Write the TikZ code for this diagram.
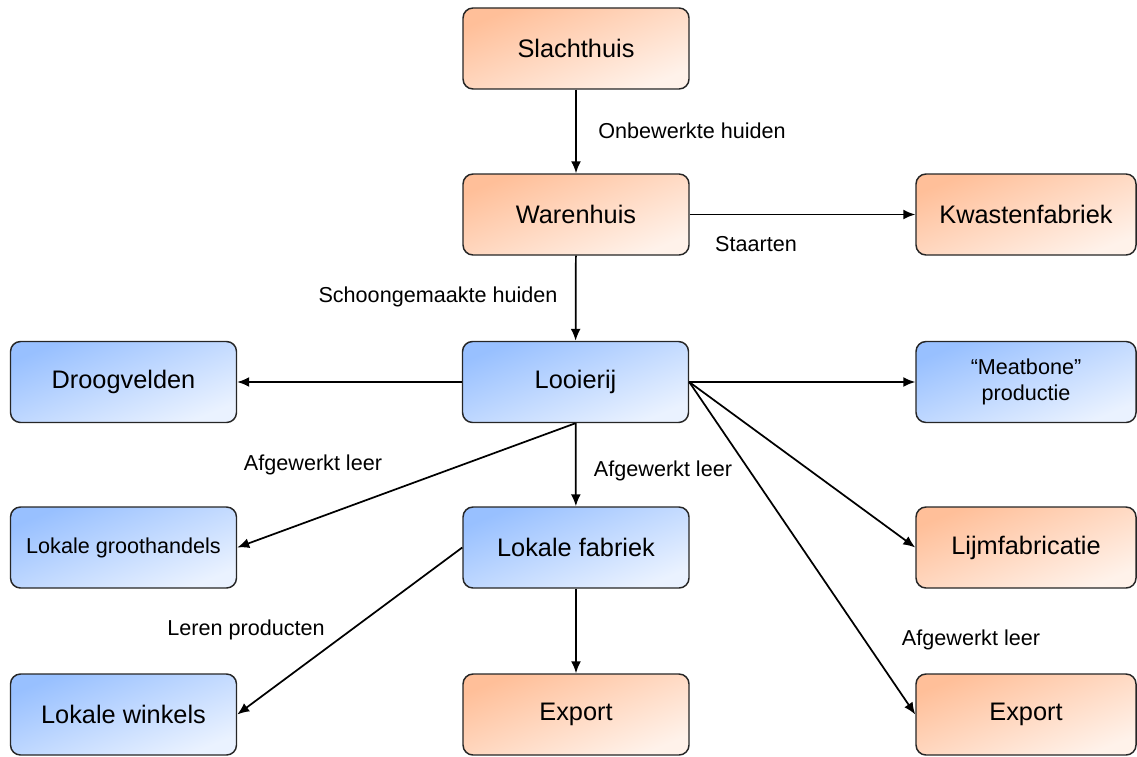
\documentclass[tikz,border=0pt]{standalone}
\usepackage{fontspec}
\setmainfont{Liberation Sans}
\usetikzlibrary{arrows.meta}
\definecolor{orA}{HTML}{FFBF99}
\definecolor{orB}{HTML}{FFF2EA}
\definecolor{blA}{HTML}{98C0FF}
\definecolor{blB}{HTML}{EAF2FF}
\tikzset{
  box/.style={draw=black!85, line width=1.1pt, rounded corners=7.5pt,
    minimum width=169.5pt, minimum height=60.75pt, align=center,
    font=\fontsize{19}{22}\selectfont, inner sep=2pt},
  orbox/.style={box, shading=axis, top color=orA, bottom color=orB, shading angle=22},
  blbox/.style={box, shading=axis, top color=blA, bottom color=blB, shading angle=22},
  smalltext/.style={font=\fontsize{16.2}{20}\selectfont},
  conn/.style={line width=1.3pt, -{Latex[length=9pt,width=7.5pt]}},
  lbl/.style={font=\fontsize{16.2}{20}\selectfont, inner sep=0pt}
}
\begin{document}
\begin{tikzpicture}[x=0.75pt,y=-0.75pt]
\useasboundingbox (0,0) rectangle (1137,756);
\node[orbox] (S) at (576,48.5) {Slachthuis};
\node[orbox] (W) at (576,214.5) {Warenhuis};
\node[orbox, minimum width=165pt] (K) at (1026,214.5) {Kwastenfabriek};
\node[blbox] (D) at (123.5,382) {Droogvelden};
\node[blbox] (L) at (575.5,382) {Looierij};
\node[blbox, smalltext, minimum width=165pt] (M) at (1026,382) {\textquotedblleft Meatbone\textquotedblright\\productie};
\node[blbox, smalltext] (LG) at (123.5,547.5) {Lokale groothandels};
\node[blbox] (LF) at (576,547.5) {Lokale fabriek};
\node[orbox, minimum width=165pt] (LJ) at (1026,547.5) {Lijmfabricatie};
\node[blbox] (LW) at (123.5,714.5) {Lokale winkels};
\node[orbox] (E1) at (576,714.5) {Export};
\node[orbox, minimum width=165pt] (E2) at (1026,714.5) {Export};

\draw[conn] (S) -- (W);
\draw[conn] (W) -- (K);
\draw[conn] (W) -- (L);
\draw[conn] (L) -- (D);
\draw[conn] (L) -- (M);
\draw[conn] (L.south) -- (LG.east);
\draw[conn] (L) -- (LF);
\draw[conn] (L.east) -- (LJ.west);
\draw[conn] (L.east) -- (E2.west);
\draw[conn] (LF.west) -- (LW.east);
\draw[conn] (LF) -- (E1);

\node[lbl] (t1) at (692,131) {Onbewerkte huiden};
\node[lbl] (t2) at (756,244) {Staarten};
\node[lbl] (t3) at (438,297) {Schoongemaakte huiden};
\node[lbl] (t4) at (313,465) {Afgewerkt leer};
\node[lbl] (t5) at (663,471) {Afgewerkt leer};
\node[lbl] (t6) at (971,640) {Afgewerkt leer};
\node[lbl] (t7) at (246,630) {Leren producten};
\end{tikzpicture}
\end{document}
